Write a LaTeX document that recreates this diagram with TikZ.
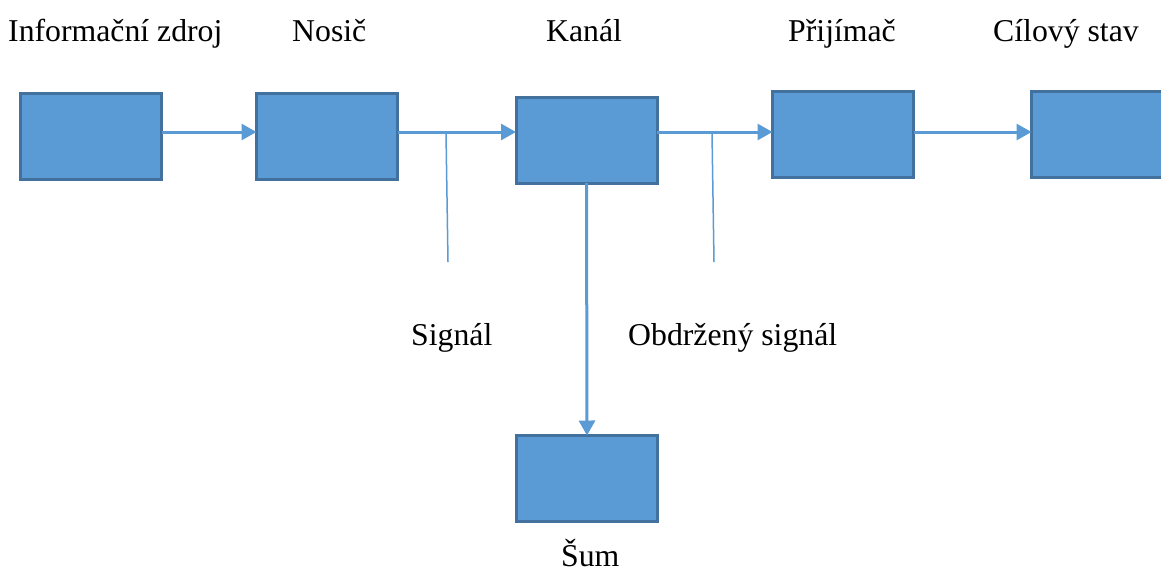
\documentclass[tikz,border=0pt]{standalone}
\usepackage{fontspec}
\setmainfont{Liberation Serif}
\usetikzlibrary{arrows.meta}
\definecolor{boxfill}{HTML}{5B9BD5}
\definecolor{boxline}{HTML}{41719C}
\definecolor{arrcol}{HTML}{5B9BD5}
\tikzset{
  blk/.style={draw=boxline, fill=boxfill, line width=3pt, minimum width=141pt, minimum height=86pt, inner sep=0pt, outer sep=0pt},
  arr/.style={draw=arrcol, line width=3pt, -{Triangle[length=15pt,width=16pt]}},
  thin/.style={draw=arrcol, line width=1.5pt},
  lbl/.style={anchor=base west, inner sep=0pt, font=\fontsize{31.75}{38}\selectfont}
}
\begin{document}
\begin{tikzpicture}[x=1pt,y=-1pt]
\useasboundingbox[fill=white] (0,0) rectangle (1161,576);
% boxes
\node[blk] (b1) at (91,136.5) {};
\node[blk] (b2) at (327,136.5) {};
\node[blk] (b3) at (586.5,140) {};
\node[blk] (b4) at (843,134.5) {};
\node[blk] (b5) at (1102,134.5) {};
\node[blk] (bn) at (587,478.5) {};
% level of the horizontal arrows
\coordinate (lv) at (0,132);
\draw[arr] (b1.east |- lv) -- (b2.west |- lv);
\draw[arr] (b2.east |- lv) -- (b3.west |- lv);
\draw[arr] (b3.east |- lv) -- (b4.west |- lv);
\draw[arr] (b4.east |- lv) -- (b5.west |- lv);
\draw[arr] (b3.south) -- (bn.north);
% pointer lines
\coordinate (s1a) at (446,133);
\coordinate (s1b) at (448,262);
\coordinate (s2a) at (712,133);
\coordinate (s2b) at (714,262);
\draw[thin] (s1a) -- (s1b);
\draw[thin] (s2a) -- (s2b);
% labels
\node[lbl] (t1) at (8,41) {Informační zdroj};
\node[lbl] (t2) at (292,41) {Nosič};
\node[lbl] (t3) at (546,41) {Kanál};
\node[lbl] (t4) at (788,41) {Přijímač};
\node[lbl] (t5) at (993,41) {Cílový stav};
\node[lbl] (t6) at (411,345) {Signál};
\node[lbl] (t7) at (628,345) {Obdržený signál};
\node[lbl] (t8) at (561,566) {Šum};
\end{tikzpicture}
\end{document}
